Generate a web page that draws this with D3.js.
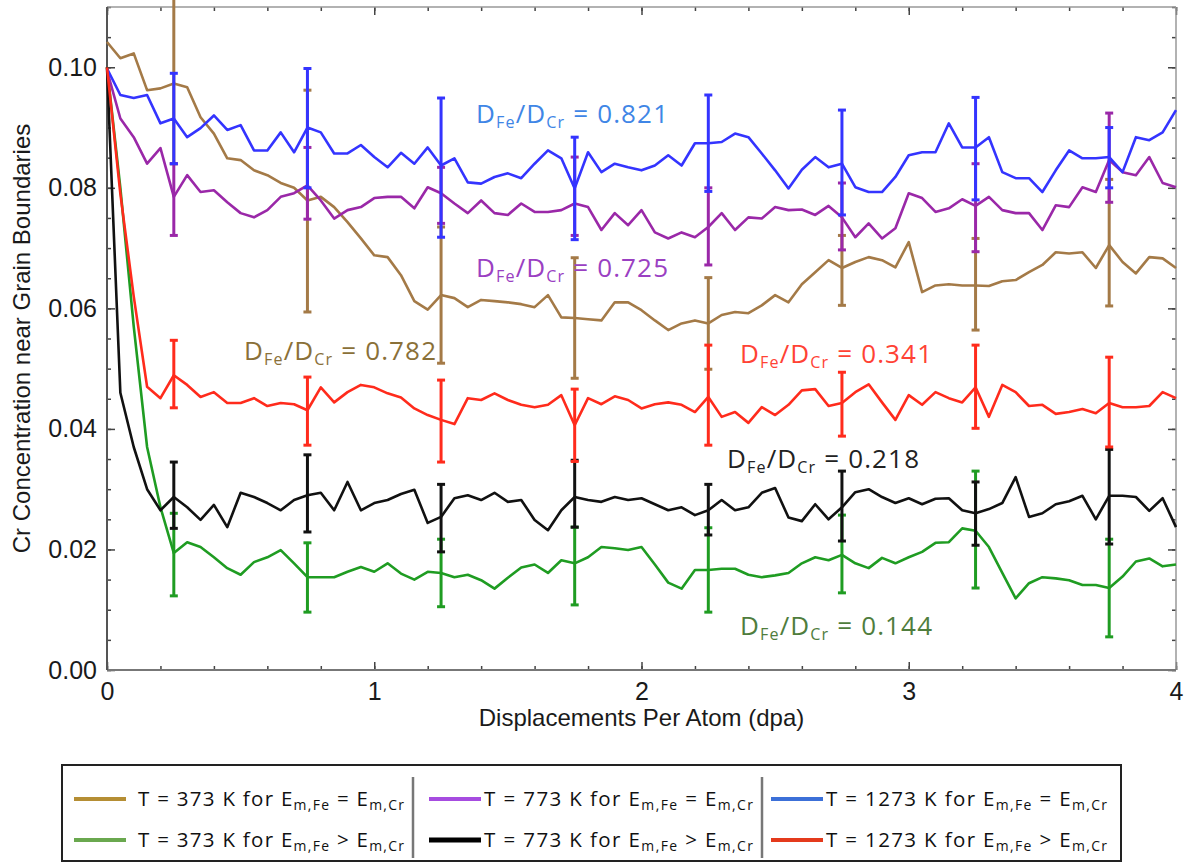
<!DOCTYPE html>
<html>
<head>
<meta charset="utf-8">
<script src="https://cdn.jsdelivr.net/npm/d3@7"></script>
<style>
	body { margin: 0; background: #fff; }
	svg { display: block; }
	.tickLabel { font-family: 'Liberation Sans', Arial, sans-serif; font-size: 25px; fill: #1a1a1a; }
	.axisTitle { font-family: 'Liberation Sans', Arial, sans-serif; font-size: 24px; fill: #1a1a1a; }
	.note { font-family: 'Open Sans', sans-serif; font-size: 26px; }
	.legendText { font-family: 'Open Sans', sans-serif; font-size: 20.5px; fill: #111; }
</style>
</head>
<body>
<div id="chart"></div>
<script>
// sampling step of the simulation output (dpa)
const dpaStep = 0.05;

const blue1273 = [0.0998, 0.0954, 0.0949, 0.0954, 0.0907, 0.0915, 0.0884, 0.0899, 0.0920, 0.0896, 0.0904, 0.0862, 0.0862, 0.0892, 0.0859, 0.0900, 0.0892, 0.0857, 0.0857, 0.0871, 0.0851, 0.0834, 0.0858, 0.0840, 0.0867, 0.0837, 0.0849, 0.0809, 0.0807, 0.0818, 0.0824, 0.0816, 0.0840, 0.0862, 0.0849, 0.0799, 0.0859, 0.0826, 0.0840, 0.0834, 0.0829, 0.0837, 0.0854, 0.0837, 0.0874, 0.0874, 0.0876, 0.0890, 0.0884, 0.0857, 0.0829, 0.0799, 0.0830, 0.0851, 0.0834, 0.0840, 0.0801, 0.0793, 0.0793, 0.0818, 0.0854, 0.0859, 0.0859, 0.0907, 0.0867, 0.0867, 0.0884, 0.0826, 0.0816, 0.0816, 0.0793, 0.0829, 0.0862, 0.0849, 0.0849, 0.0851, 0.0826, 0.0884, 0.0879, 0.0892, 0.0929];
const purple773 = [0.0995, 0.0915, 0.0884, 0.0840, 0.0866, 0.0785, 0.0821, 0.0793, 0.0796, 0.0776, 0.0758, 0.0751, 0.0763, 0.0785, 0.0791, 0.0804, 0.0779, 0.0749, 0.0763, 0.0768, 0.0783, 0.0785, 0.0785, 0.0766, 0.0801, 0.0791, 0.0774, 0.0758, 0.0779, 0.0758, 0.0755, 0.0774, 0.0760, 0.0760, 0.0763, 0.0774, 0.0768, 0.0730, 0.0758, 0.0738, 0.0763, 0.0726, 0.0716, 0.0726, 0.0718, 0.0735, 0.0758, 0.0730, 0.0751, 0.0749, 0.0768, 0.0763, 0.0764, 0.0755, 0.0770, 0.0751, 0.0718, 0.0741, 0.0716, 0.0733, 0.0791, 0.0783, 0.0760, 0.0766, 0.0781, 0.0770, 0.0785, 0.0763, 0.0758, 0.0758, 0.0730, 0.0771, 0.0768, 0.0801, 0.0793, 0.0846, 0.0826, 0.0821, 0.0851, 0.0808, 0.0801];
const brown373 = [0.1042, 0.1015, 0.1023, 0.0962, 0.0965, 0.0973, 0.0967, 0.0917, 0.0890, 0.0849, 0.0846, 0.0829, 0.0821, 0.0808, 0.0800, 0.0779, 0.0785, 0.0768, 0.0743, 0.0716, 0.0688, 0.0685, 0.0655, 0.0612, 0.0598, 0.0622, 0.0617, 0.0602, 0.0614, 0.0612, 0.0610, 0.0607, 0.0602, 0.0622, 0.0585, 0.0584, 0.0582, 0.0580, 0.0610, 0.0610, 0.0597, 0.0580, 0.0564, 0.0575, 0.0580, 0.0575, 0.0589, 0.0594, 0.0592, 0.0605, 0.0622, 0.0610, 0.0640, 0.0660, 0.0680, 0.0667, 0.0677, 0.0685, 0.0680, 0.0668, 0.0710, 0.0627, 0.0638, 0.0640, 0.0638, 0.0638, 0.0637, 0.0645, 0.0647, 0.0660, 0.0672, 0.0693, 0.0691, 0.0693, 0.0667, 0.0705, 0.0677, 0.0658, 0.0685, 0.0683, 0.0667];
const red1273 = [0.1000, 0.0790, 0.0620, 0.0470, 0.0451, 0.0489, 0.0473, 0.0453, 0.0461, 0.0443, 0.0443, 0.0451, 0.0438, 0.0443, 0.0441, 0.0431, 0.0469, 0.0444, 0.0461, 0.0473, 0.0469, 0.0459, 0.0452, 0.0434, 0.0423, 0.0415, 0.0408, 0.0451, 0.0448, 0.0459, 0.0448, 0.0440, 0.0436, 0.0440, 0.0456, 0.0406, 0.0451, 0.0441, 0.0454, 0.0448, 0.0434, 0.0441, 0.0444, 0.0440, 0.0428, 0.0453, 0.0420, 0.0428, 0.0410, 0.0436, 0.0423, 0.0440, 0.0464, 0.0466, 0.0438, 0.0443, 0.0461, 0.0474, 0.0444, 0.0415, 0.0456, 0.0440, 0.0461, 0.0451, 0.0444, 0.0469, 0.0420, 0.0473, 0.0461, 0.0438, 0.0440, 0.0425, 0.0428, 0.0433, 0.0426, 0.0443, 0.0436, 0.0436, 0.0438, 0.0461, 0.0451];
const black773 = [0.1000, 0.0460, 0.0370, 0.0300, 0.0265, 0.0287, 0.0270, 0.0249, 0.0274, 0.0237, 0.0294, 0.0287, 0.0277, 0.0265, 0.0282, 0.0290, 0.0294, 0.0265, 0.0312, 0.0265, 0.0277, 0.0282, 0.0292, 0.0299, 0.0244, 0.0254, 0.0285, 0.0290, 0.0282, 0.0294, 0.0279, 0.0282, 0.0249, 0.0232, 0.0265, 0.0287, 0.0282, 0.0279, 0.0287, 0.0282, 0.0285, 0.0275, 0.0265, 0.0270, 0.0257, 0.0265, 0.0282, 0.0265, 0.0270, 0.0294, 0.0302, 0.0253, 0.0247, 0.0275, 0.0250, 0.0270, 0.0295, 0.0300, 0.0287, 0.0277, 0.0285, 0.0275, 0.0284, 0.0285, 0.0265, 0.0260, 0.0267, 0.0277, 0.0320, 0.0254, 0.0260, 0.0275, 0.0280, 0.0289, 0.0250, 0.0289, 0.0289, 0.0287, 0.0264, 0.0285, 0.0237];
const green373 = [0.1000, 0.0800, 0.0570, 0.0370, 0.0270, 0.0194, 0.0212, 0.0204, 0.0187, 0.0169, 0.0158, 0.0179, 0.0187, 0.0199, 0.0177, 0.0154, 0.0154, 0.0154, 0.0163, 0.0171, 0.0163, 0.0177, 0.0160, 0.0150, 0.0163, 0.0161, 0.0154, 0.0158, 0.0149, 0.0135, 0.0153, 0.0170, 0.0175, 0.0161, 0.0182, 0.0177, 0.0187, 0.0204, 0.0202, 0.0199, 0.0204, 0.0175, 0.0145, 0.0135, 0.0166, 0.0166, 0.0168, 0.0168, 0.0158, 0.0154, 0.0157, 0.0161, 0.0177, 0.0187, 0.0182, 0.0191, 0.0177, 0.0169, 0.0186, 0.0177, 0.0187, 0.0196, 0.0211, 0.0212, 0.0235, 0.0231, 0.0204, 0.0161, 0.0119, 0.0144, 0.0154, 0.0152, 0.0149, 0.0141, 0.0141, 0.0136, 0.0155, 0.0180, 0.0185, 0.0172, 0.0175];

// error bar positions and their upper / lower ends
const errorX = [0.25, 0.75, 1.25, 1.75, 2.25, 2.75, 3.25, 3.75];
const blueTop = [0.0990, 0.0998, 0.0949, 0.0884, 0.0954, 0.0929, 0.0950, 0.0900];
const blueBottom = [0.0840, 0.0800, 0.0718, 0.0714, 0.0794, 0.0755, 0.0780, 0.0800];
const purpleTop = [0.0840, 0.0867, 0.0834, 0.0851, 0.0800, 0.0808, 0.0840, 0.0924];
const purpleBottom = [0.0721, 0.0748, 0.0741, 0.0721, 0.0672, 0.0697, 0.0694, 0.0776];
const brownTop = [0.1135, 0.0962, 0.0735, 0.0684, 0.0651, 0.0721, 0.0716, 0.0814];
const brownBottom = [0.0840, 0.0594, 0.0509, 0.0484, 0.0499, 0.0605, 0.0564, 0.0604];
const redTop = [0.0547, 0.0486, 0.0481, 0.0466, 0.0539, 0.0494, 0.0539, 0.0519];
const redBottom = [0.0435, 0.0373, 0.0345, 0.0346, 0.0373, 0.0388, 0.0401, 0.0370];
const blackTop = [0.0345, 0.0357, 0.0308, 0.0348, 0.0308, 0.0330, 0.0312, 0.0366];
const blackBottom = [0.0235, 0.0229, 0.0196, 0.0237, 0.0224, 0.0214, 0.0207, 0.0209];
const greenTop = [0.0260, 0.0211, 0.0217, 0.0237, 0.0236, 0.0257, 0.0330, 0.0217];
const greenBottom = [0.0123, 0.0096, 0.0105, 0.0108, 0.0096, 0.0128, 0.0136, 0.0055];

const xTicks = [0, 1, 2, 3, 4];
const yTicks = [0, 0.02, 0.04, 0.06, 0.08, 0.10];
const ratioLabels = ['0.782', '0.144', '0.725', '0.218', '0.821', '0.341'];
const legendTemps = ['373', '373', '773', '773', '1273', '1273'];
const legendRelations = ['=', '>', '=', '>', '=', '>'];

/**********************
***** BASIC SETUP *****
**********************/

const width = 1193;
const height = 863;
const margin = { top: 7, left: 107, right: 17, bottom: 193 };
const plotWidth = width - margin.left - margin.right;
const plotHeight = height - margin.top - margin.bottom;

const svg = d3.select('#chart').append('svg').attr('width', width).attr('height', height);
svg.append('rect').attr('width', width).attr('height', height).attr('fill', '#fff');

const xScale = d3.scaleLinear().domain([ 0, 4 ]).range([ 0, plotWidth ]);
const yScale = d3.scaleLinear().domain([ 0, 0.11 ]).range([ plotHeight, 0 ]);

const plot = svg.append('g').attr('transform', `translate(${margin.left}, ${margin.top})`);

/***********************
***** SERIES SETUP *****
***********************/

const series = [
	{ values: brown373, top: brownTop, bottom: brownBottom, color: '#a47a47', noteColor: '#8a7038', legendColor: '#b58e34' },
	{ values: green373, top: greenTop, bottom: greenBottom, color: '#1f9c22', noteColor: '#4f7d3d', legendColor: '#6aa84f' },
	{ values: purple773, top: purpleTop, bottom: purpleBottom, color: '#9a28a8', noteColor: '#9a40c2', legendColor: '#a64ce0' },
	{ values: black773, top: blackTop, bottom: blackBottom, color: '#111', noteColor: '#222', legendColor: '#000' },
	{ values: blue1273, top: blueTop, bottom: blueBottom, color: '#3434ff', noteColor: '#3f86e6', legendColor: '#3c70d8' },
	{ values: red1273, top: redTop, bottom: redBottom, color: '#ff2b1c', noteColor: '#ff4234', legendColor: '#e43a1c' }
];

/*********************
***** TICK MARKS *****
*********************/

const xMinor = d3.range(0, 4.001, 0.2);
const yMinor = d3.range(0, 0.1101, 0.005);

function tickAxis(axis, transform) {
	const g = plot.append('g').attr('transform', transform).call(axis);
	g.select('.domain').remove();
	g.selectAll('line').attr('stroke', '#444').attr('stroke-width', 1.5);
	return g;
}

// minor ticks on all four sides
tickAxis(d3.axisBottom(xScale).tickValues(xMinor).tickSize(-4).tickFormat(''), `translate(0, ${plotHeight})`);
tickAxis(d3.axisTop(xScale).tickValues(xMinor).tickSize(-4).tickFormat(''), 'translate(0, 0)');
tickAxis(d3.axisLeft(yScale).tickValues(yMinor).tickSize(-4).tickFormat(''), 'translate(0, 0)');
tickAxis(d3.axisRight(yScale).tickValues(yMinor).tickSize(-4).tickFormat(''), `translate(${plotWidth}, 0)`);

// major ticks with labels
const xAxis = tickAxis(
	d3.axisBottom(xScale).tickValues(xTicks).tickSize(-8).tickPadding(12).tickFormat(d3.format('d')),
	`translate(0, ${plotHeight})`
);
xAxis.selectAll('text').attr('class', 'tickLabel').attr('dy', '0.7em');
tickAxis(d3.axisTop(xScale).tickValues(xTicks).tickSize(-8).tickFormat(''), 'translate(0, 0)');

const yAxis = tickAxis(
	d3.axisLeft(yScale).tickValues(yTicks).tickSize(-8).tickPadding(10).tickFormat(d3.format('.2f')),
	'translate(0, 0)'
);
yAxis.selectAll('text').attr('class', 'tickLabel');
tickAxis(d3.axisRight(yScale).tickValues(yTicks).tickSize(-8).tickFormat(''), `translate(${plotWidth}, 0)`);

// frame
plot.append('line').attr('x1', 0).attr('x2', plotWidth).attr('y1', 0).attr('y2', 0).attr('stroke', '#999').attr('stroke-width', 1.5);
plot.append('line').attr('x1', plotWidth).attr('x2', plotWidth).attr('y1', 0).attr('y2', plotHeight).attr('stroke', '#999').attr('stroke-width', 1.5);
plot.append('line').attr('x1', 0).attr('x2', plotWidth).attr('y1', plotHeight).attr('y2', plotHeight).attr('stroke', '#777').attr('stroke-width', 2);
plot.append('line').attr('x1', 0).attr('x2', 0).attr('y1', 0).attr('y2', plotHeight).attr('stroke', '#555').attr('stroke-width', 2);

/*****************************
***** LINES & ERROR BARS *****
*****************************/

const line = d3
	.line()
	.x((d, i) => xScale(i * dpaStep))
	.y((d) => yScale(d));

series.forEach(function(s) {
	plot
		.append('path')
		.datum(s.values)
		.attr('fill', 'none')
		.attr('stroke', s.color)
		.attr('stroke-width', 2.6)
		.attr('stroke-linejoin', 'round')
		.attr('d', line);

	const bars = errorX.map((x, i) => ({ x: x, top: s.top[i], bottom: s.bottom[i] }));
	const g = plot.append('g').attr('stroke', s.color).attr('stroke-width', 3);

	g
		.selectAll('.errBar')
		.data(bars)
		.enter()
		.append('line')
		.attr('x1', (d) => xScale(d.x))
		.attr('x2', (d) => xScale(d.x))
		.attr('y1', (d) => yScale(d.top))
		.attr('y2', (d) => yScale(d.bottom));

	// caps
	[ 'top', 'bottom' ].forEach(function(end) {
		g
			.selectAll('.cap' + end)
			.data(bars)
			.enter()
			.append('line')
			.attr('x1', (d) => xScale(d.x) - 4)
			.attr('x2', (d) => xScale(d.x) + 4)
			.attr('y1', (d) => yScale(d[end]))
			.attr('y2', (d) => yScale(d[end]));
	});
});

/**********************
***** ANNOTATIONS *****
**********************/

const notePos = [ [ 244, 360 ], [ 740, 635 ], [ 476, 277 ], [ 727, 468 ], [ 476, 123 ], [ 740, 363 ] ];

function ratioText(sel, value) {
	sel.append('tspan').text('D');
	sel.append('tspan').attr('font-size', '0.62em').attr('dy', 5).text('Fe');
	sel.append('tspan').attr('dy', -5).text('/D');
	sel.append('tspan').attr('font-size', '0.62em').attr('dy', 5).text('Cr');
	sel.append('tspan').attr('dy', -5).text(' = ' + value);
}

series.forEach(function(s, i) {
	const t = svg
		.append('text')
		.attr('class', 'note')
		.attr('x', notePos[i][0])
		.attr('y', notePos[i][1])
		.attr('fill', s.noteColor)
		.attr('textLength', 192)
		.attr('lengthAdjust', 'spacing');
	ratioText(t, ratioLabels[i]);
});

/**********************
***** AXIS TITLES *****
**********************/

svg
	.append('text')
	.attr('class', 'axisTitle')
	.attr('transform', `translate(30, ${margin.top + plotHeight / 2}) rotate(-90)`)
	.attr('text-anchor', 'middle')
	.text('Cr Concentration near Grain Boundaries');

svg
	.append('text')
	.attr('class', 'axisTitle')
	.attr('x', margin.left + plotWidth / 2)
	.attr('y', 726)
	.attr('text-anchor', 'middle')
	.text('Displacements Per Atom (dpa)');

/*****************
***** LEGEND *****
*****************/

const legend = svg.append('g');
legend
	.append('rect')
	.attr('x', 62)
	.attr('y', 765)
	.attr('width', 1059)
	.attr('height', 96)
	.attr('fill', '#fff')
	.attr('stroke', '#222')
	.attr('stroke-width', 2);

[ 413, 762 ].forEach(function(x) {
	legend.append('line').attr('x1', x).attr('x2', x).attr('y1', 777).attr('y2', 858).attr('stroke', '#777').attr('stroke-width', 2.5);
});

const colX = [ 74, 429, 771 ];
const textX = [ 138, 484, 826 ];
const rowY = [ 799, 840 ];
const textLen = [ 266, 269, 281 ];

series.forEach(function(s, i) {
	const col = Math.floor(i / 2);
	const row = i % 2;
	legend
		.append('line')
		.attr('x1', colX[col])
		.attr('x2', colX[col] + 52)
		.attr('y1', rowY[row])
		.attr('y2', rowY[row])
		.attr('stroke', s.legendColor)
		.attr('stroke-width', i === 3 ? 5 : 4);

	const t = legend
		.append('text')
		.attr('class', 'legendText')
		.attr('x', textX[col])
		.attr('y', rowY[row] + 7)
		.attr('textLength', textLen[col])
		.attr('lengthAdjust', 'spacing');
	t.append('tspan').text(`T = ${legendTemps[i]} K for E`);
	t.append('tspan').attr('font-size', '0.68em').attr('dy', 4).text('m,Fe');
	t.append('tspan').attr('dy', -4).text(` ${legendRelations[i]} E`);
	t.append('tspan').attr('font-size', '0.68em').attr('dy', 4).text('m,Cr');
});
</script>
</body>
</html>
